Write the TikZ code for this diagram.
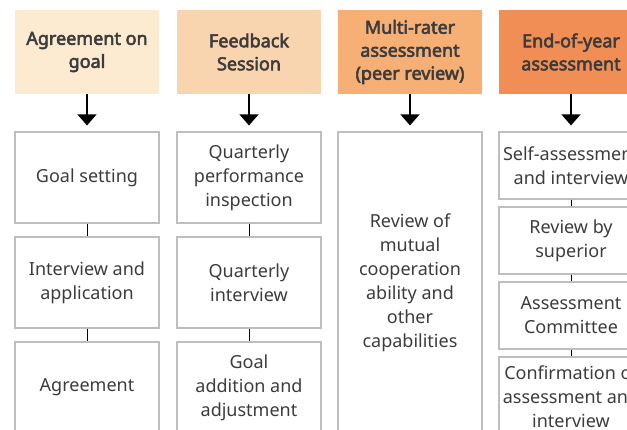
\documentclass[tikz,border=0pt]{standalone}
\usepackage{fontspec}
\setmainfont{Noto Sans}[AutoFakeBold=3]
\usetikzlibrary{arrows.meta}
\definecolor{headone}{HTML}{FDEBD1}
\definecolor{headtwo}{HTML}{F9D5AF}
\definecolor{headthree}{HTML}{F6AF74}
\definecolor{headfour}{HTML}{F18E56}
\definecolor{boxline}{HTML}{BEBEBE}
\definecolor{textcolor}{HTML}{3C3C3C}

\begin{document}
\begin{tikzpicture}[
  x=1pt, y=-1pt,
  every node/.style={font=\fontsize{18}{24}\selectfont, text=textcolor, align=center},
  head/.style={minimum width=144pt, minimum height=84pt, inner sep=0pt,
    font=\fontsize{18}{23}\selectfont\bfseries},
  stepbox/.style={draw=boxline, line width=1.2pt, minimum width=144pt, inner sep=0pt},
  bigbox/.style={stepbox, minimum height=91pt},
  smallbox/.style={stepbox, minimum height=67pt},
  flow/.style={-{Triangle[width=19pt,length=11pt]}, line width=1.3pt, shorten >=6pt},
  link/.style={line width=1pt}
]
  \useasboundingbox (0,0) rectangle (627,429);
  \clip (0,0) rectangle (627,429);

  % headers
  \node[head, fill=headone] (agree) at (87,52) {Agreement on\\goal};
  \node[head, fill=headtwo] (feed) at (249,52) {Feedback\\Session};
  \node[head, fill=headthree] (multi) at (410,52) {Multi-rater\\assessment\\(peer review)};
  \node[head, fill=headfour] (endyear) at (571,52) {End-of-year\\assessment};

  % first column
  \node[bigbox] (goalset) at (87,177.5) {Goal setting};
  \node[bigbox] (interapp) at (87,282.5) {Interview and\\application};
  \node[bigbox] (agreement) at (87,387.5) {Agreement};

  % second column
  \node[bigbox] (qinspect) at (249,177.5) {Quarterly\\performance\\inspection};
  \node[bigbox] (qinter) at (249,282.5) {Quarterly\\interview};
  \node[bigbox] (goaladd) at (249,387.5) {Goal\\addition and\\adjustment};

  % third column
  \node[stepbox, minimum height=301pt] (mutual) at (410,282.5)
    {Review of\\mutual\\cooperation\\ability and\\other\\capabilities};

  % fourth column
  \node[smallbox] (selfass) at (571,165.5) {Self-assessment\\and interview};
  \node[smallbox] (bysup) at (571,240.5) {Review by\\superior};
  \node[smallbox] (committee) at (571,315.5) {Assessment\\Committee};
  \node[stepbox, minimum height=80pt] (confirm) at (571,397) {Confirmation of\\assessment and\\interview};

  % arrows
  \draw[flow] (agree) -- (goalset);
  \draw[flow] (feed) -- (qinspect);
  \draw[flow] (multi) -- (mutual);
  \draw[flow] (endyear) -- (selfass);

  % links
  \draw[link] (goalset) -- (interapp);
  \draw[link] (interapp) -- (agreement);
  \draw[link] (qinspect) -- (qinter);
  \draw[link] (qinter) -- (goaladd);
  \draw[link] (selfass) -- (bysup);
  \draw[link] (bysup) -- (committee);
  \draw[link] (committee) -- (confirm);
\end{tikzpicture}
\end{document}
